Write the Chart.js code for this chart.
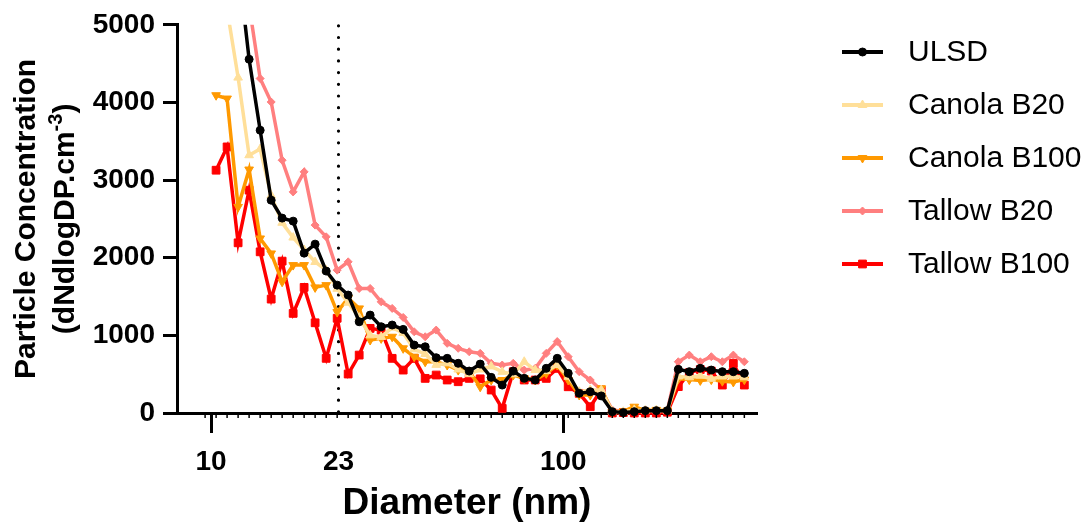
<!DOCTYPE html>
<html><head><meta charset="utf-8">
<script src="https://cdn.jsdelivr.net/npm/chart.js@4/dist/chart.umd.min.js"></script>
<style>html,body{margin:0;padding:0;background:#fff}#wrap{width:1089px;height:523px;position:relative}</style>
</head><body><div id="wrap"><canvas id="c" width="1089" height="523"></canvas></div>
<script>
// Particle diameter (nm)
const diameters = [10.33, 11.10, 11.93, 12.82, 13.78, 14.81, 15.91, 17.10, 18.37, 19.74,
  21.22, 22.80, 24.50, 26.33, 28.29, 30.40, 32.67, 35.11, 37.73, 40.54,
  43.57, 46.82, 50.31, 54.06, 58.10, 62.43, 67.09, 72.10, 77.48, 83.26,
  89.47, 96.14, 103.3, 111.0, 119.3, 128.2, 137.8, 148.1, 159.1, 171.0,
  183.8, 197.5, 212.2, 228.0, 245.0, 263.3, 283.0, 304.1, 326.8];

const ulsd = [8500, 7000, 5800, 4556, 3642, 2741, 2510, 2471, 2059, 2175,
  1828, 1647, 1519, 1175, 1261, 1111, 1133, 1077, 875, 853,
  712, 704, 640, 540, 630, 459, 360, 540, 446, 425,
  575, 704, 511, 253, 274, 220, 17, 5, 17, 30,
  30, 30, 562, 532, 575, 553, 532, 532, 511];

const canolaB20 = [6200, 5200, 4320, 3320, 3400, 2800, 2450, 2260, 2100, 1945,
  1840, 1600, 1420, 1230, 1000, 980, 1100, 1030, 820, 760,
  620, 640, 560, 500, 560, 600, 530, 500, 660, 553,
  540, 618, 467, 274, 296, 296, 20, 15, 40, 30,
  35, 30, 470, 460, 480, 440, 470, 470, 460];

const canolaB100 = [4093, 4050, 2655, 3136, 2248, 2055, 1690, 1905, 1905, 1618,
  1647, 1300, 1480, 1347, 940, 961, 982, 833, 725, 660,
  660, 618, 553, 532, 338, 425, 425, 489, 446, 425,
  511, 618, 425, 232, 232, 318, 10, 20, 81, 30,
  40, 30, 440, 430, 420, 430, 410, 400, 430];

const tallowB20 = [9000, 7800, 6500, 5250, 4308, 4006, 3256, 2848, 3106, 2420,
  2269, 1840, 1947, 1604, 1604, 1432, 1347, 1231, 1046, 982,
  1068, 897, 833, 789, 768, 640, 618, 640, 553, 575,
  768, 920, 725, 532, 425, 296, 39, 20, 30, 40,
  30, 30, 660, 746, 660, 725, 660, 746, 660];

const tallowB100 = [3127, 3427, 2192, 2870, 2076, 1467, 1956, 1283, 1618, 1162,
  704, 1220, 502, 746, 1090, 1068, 704, 553, 704, 446,
  489, 425, 403, 446, 440, 296, 60, 532, 425, 425,
  446, 575, 338, 253, 81, 296, 0, 5, 0, 0,
  0, 10, 340, 520, 560, 540, 360, 640, 360];

const seriesLabels = ['ULSD', 'Canola B20', 'Canola B100', 'Tallow B20', 'Tallow B100'];
const xTickValues = [10, 23, 100];
const yTickValues = [0, 1000, 2000, 3000, 4000, 5000];
const refDiameter = 23;

const FONT = '"Liberation Sans", Arial, Helvetica, sans-serif';
const toXY = arr => arr.map((v, i) => ({x: diameters[i], y: v}));

const styles = [
  {color: '#000000', pointStyle: 'circle', radius: 4, rotation: 0, legendRadius: 4},
  {color: '#FFDF99', pointStyle: 'triangle', radius: 5, rotation: 0, legendRadius: 5},
  {color: '#FF9900', pointStyle: 'triangle', radius: 5, rotation: 180, legendRadius: 5},
  {color: '#FF7F7F', pointStyle: 'rectRot', radius: 4, rotation: 0, legendRadius: 4},
  {color: '#FF0000', pointStyle: 'rect', radius: 5.5, rotation: 0, legendRadius: 5.5}
];
const seriesData = [ulsd, canolaB20, canolaB100, tallowB20, tallowB100];

const datasets = seriesData.map((arr, i) => ({
  label: seriesLabels[i],
  data: toXY(arr),
  borderColor: styles[i].color,
  backgroundColor: styles[i].color,
  pointBackgroundColor: styles[i].color,
  pointBorderColor: styles[i].color,
  pointBorderWidth: 1,
  pointStyle: styles[i].pointStyle,
  pointRadius: styles[i].radius,
  pointRotation: styles[i].rotation,
  borderWidth: 3.5,
  tension: 0,
  clip: {left: 6, right: 6, top: 0, bottom: 6}
}));

const refLinePlugin = {
  id: 'refLine',
  beforeDatasetsDraw(chart) {
    const {ctx, chartArea, scales} = chart;
    const x = scales.x.getPixelForValue(refDiameter);
    ctx.save();
    ctx.strokeStyle = '#000';
    ctx.lineWidth = 3.2;
    ctx.lineCap = 'round';
    ctx.setLineDash([0, 11.7]);
    ctx.beginPath();
    ctx.moveTo(x, chartArea.top + 1);
    ctx.lineTo(x, chartArea.bottom);
    ctx.stroke();
    ctx.restore();
  }
};

const minorTickPlugin = {
  id: 'minorTicks',
  afterDraw(chart) {
    const {ctx, chartArea, scales} = chart;
    ctx.save();
    ctx.strokeStyle = '#000';
    ctx.lineWidth = 1.5;
    const vals = [diameters[0] / (diameters[1] / diameters[0])].concat(diameters);
    vals.forEach(v => {
      const x = scales.x.getPixelForValue(v);
      if (x < chartArea.left || x > chartArea.right) return;
      ctx.beginPath();
      ctx.moveTo(x, chartArea.bottom);
      ctx.lineTo(x, chartArea.bottom + 5);
      ctx.stroke();
    });
    ctx.restore();
  }
};

const yTitlePlugin = {
  id: 'yTitle',
  afterDraw(chart) {
    const {ctx, chartArea} = chart;
    const cy = (chartArea.top + chartArea.bottom) / 2;
    ctx.save();
    ctx.fillStyle = '#000';
    ctx.textBaseline = 'alphabetic';
    ctx.save();
    ctx.translate(35, cy);
    ctx.rotate(-Math.PI / 2);
    ctx.font = 'bold 30px ' + FONT;
    ctx.textAlign = 'center';
    ctx.fillText('Particle Concentration', 0, 0);
    ctx.restore();
    ctx.save();
    ctx.translate(74, cy);
    ctx.rotate(-Math.PI / 2);
    ctx.textAlign = 'left';
    const mainFont = 'bold 30px ' + FONT;
    const supFont = 'bold 20px ' + FONT;
    const p1 = '(dNdlogDP.cm', sup = '-3', p2 = ')';
    ctx.font = mainFont; const w1 = ctx.measureText(p1).width; const w3 = ctx.measureText(p2).width;
    ctx.font = supFont; const w2 = ctx.measureText(sup).width;
    let x0 = -(w1 + w2 + w3) / 2;
    ctx.font = mainFont; ctx.fillText(p1, x0, 0);
    ctx.font = supFont; ctx.fillText(sup, x0 + w1, -12);
    ctx.font = mainFont; ctx.fillText(p2, x0 + w1 + w2, 0);
    ctx.restore();
    ctx.restore();
  }
};

const legendPlugin = {
  id: 'customLegend',
  afterDraw(chart) {
    const {ctx} = chart;
    ctx.save();
    chart.data.datasets.forEach((ds, i) => {
      const y = 52 + i * 53;
      ctx.strokeStyle = ds.borderColor;
      ctx.lineWidth = 4;
      ctx.beginPath();
      ctx.moveTo(842, y);
      ctx.lineTo(883, y);
      ctx.stroke();
      ctx.fillStyle = ds.borderColor;
      ctx.strokeStyle = ds.borderColor;
      ctx.lineWidth = 1;
      Chart.helpers.drawPoint(ctx, {pointStyle: styles[i].pointStyle, radius: styles[i].legendRadius, rotation: styles[i].rotation, borderWidth: 1}, 862.5, y);
      ctx.fillStyle = '#000';
      ctx.font = '30px ' + FONT;
      ctx.textBaseline = 'middle';
      ctx.textAlign = 'left';
      ctx.fillText(ds.label, 908, y + 1);
    });
    ctx.restore();
  }
};

new Chart(document.getElementById('c'), {
  type: 'line',
  data: {datasets},
  options: {
    responsive: false,
    animation: false,
    devicePixelRatio: 1,
    layout: {padding: {top: 24, right: 332, left: 0, bottom: 0}},
    plugins: {legend: {display: false}, tooltip: {enabled: false}},
    scales: {
      x: {
        type: 'logarithmic',
        min: 8,
        max: 355,
        grid: {
          drawOnChartArea: false,
          drawTicks: true,
          tickLength: 20,
          tickWidth: 3,
          tickColor: ctx => (ctx.tick && ctx.tick.value === refDiameter) ? 'rgba(0,0,0,0)' : '#000'
        },
        border: {display: true, color: '#000', width: 3},
        ticks: {
          color: '#000',
          font: {family: FONT, size: 28, weight: 'bold'},
          padding: 12,
          maxRotation: 0,
          autoSkip: false,
          callback: v => String(v)
        },
        afterBuildTicks: s => { s.ticks = xTickValues.map(v => ({value: v})); },
        afterFit: s => { s.height = 110; },
        title: {
          display: true,
          text: 'Diameter (nm)',
          color: '#000',
          font: {family: FONT, size: 37, weight: 'bold', lineHeight: 1},
          padding: {top: 0, bottom: 1}
        }
      },
      y: {
        type: 'linear',
        min: 0,
        max: 5000,
        grid: {drawOnChartArea: false, drawTicks: true, tickLength: 14, tickWidth: 3, tickColor: '#000'},
        border: {display: true, color: '#000', width: 3},
        ticks: {
          color: '#000',
          font: {family: FONT, size: 28, weight: 'bold'},
          padding: 8,
          autoSkip: false,
          callback: v => String(v)
        },
        afterBuildTicks: s => { s.ticks = yTickValues.map(v => ({value: v})); },
        afterFit: s => { s.width = 177; }
      }
    }
  },
  plugins: [refLinePlugin, minorTickPlugin, yTitlePlugin, legendPlugin]
});
</script>
</body></html>
